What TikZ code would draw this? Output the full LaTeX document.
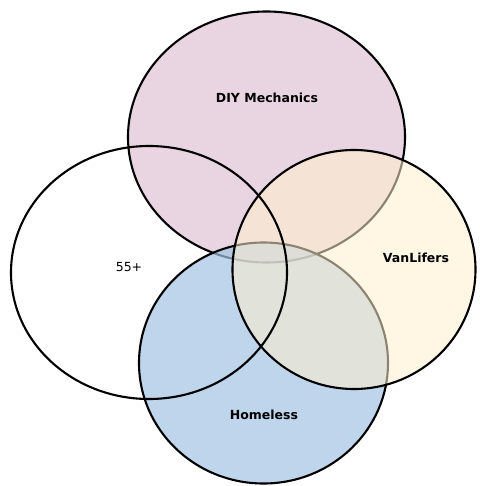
\documentclass[tikz,border=0pt]{standalone}
\usepackage{fontspec}
\setmainfont{DejaVu Sans}
\definecolor{diypink}{RGB}{233,213,225}
\definecolor{homeblue}{RGB}{162,195,228}
\definecolor{vanyellow}{RGB}{255,240,206}
\tikzset{
  ring/.style={draw=black, line width=2.1pt},
  lbl/.style={font=\fontsize{12.5}{15}\selectfont\bfseries, text=black},
  lblreg/.style={font=\fontsize{12.5}{15}\selectfont, text=black}
}
\begin{document}
\begin{tikzpicture}[x=1pt,y=-1pt]
\useasboundingbox (0,0) rectangle (479,486);
% DIY Mechanics
\fill[diypink] (266.5,137) ellipse [x radius=138.5, y radius=125.5];
\draw[ring] (266.5,137) ellipse [x radius=138.5, y radius=125.5];
% Homeless
\fill[homeblue, fill opacity=0.7] (263.5,363) ellipse [x radius=124.5, y radius=120.5];
\draw[ring] (263.5,363) ellipse [x radius=124.5, y radius=120.5];
% VanLifers
\fill[vanyellow, fill opacity=0.55] (354,269.5) ellipse [x radius=121.5, y radius=119.5];
\draw[ring] (354,269.5) ellipse [x radius=121.5, y radius=119.5];
% 55+
\draw[ring] (149,272.5) ellipse [x radius=138, y radius=126.5];
% labels
\node[lbl] (diy) at (267,98) {DIY Mechanics};
\node[lblreg] (old) at (129,267) {55+};
\node[lbl] (van) at (416,258) {VanLifers};
\node[lbl] (home) at (264,415) {Homeless};
\end{tikzpicture}
\end{document}
